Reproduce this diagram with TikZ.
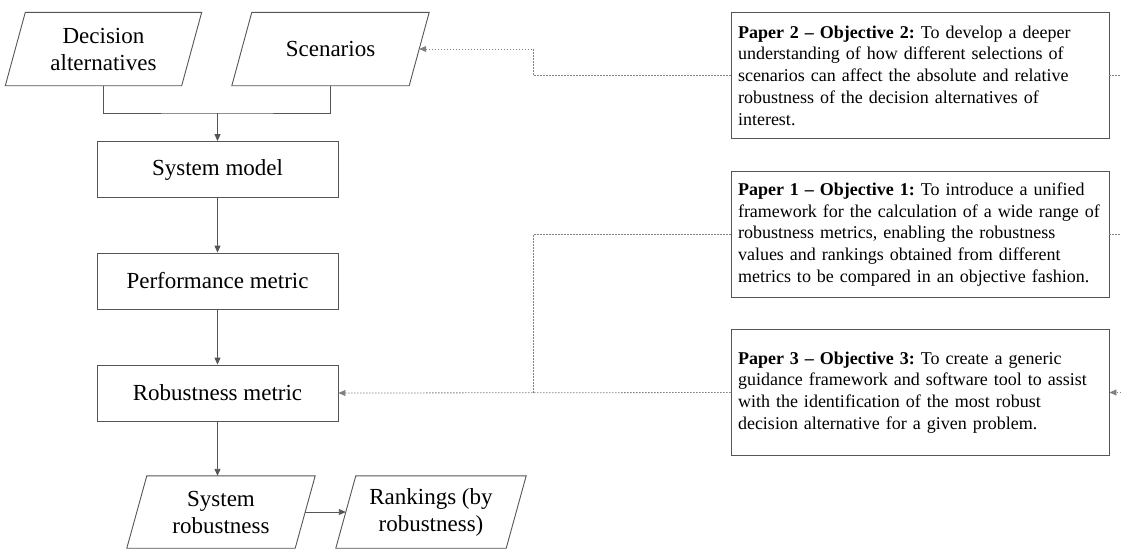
\documentclass[tikz,border=0pt]{standalone}
\usepackage{fontspec}
\setmainfont{Liberation Serif}
\usetikzlibrary{arrows.meta}
\definecolor{edgegray}{HTML}{555555}
\definecolor{dotgray}{HTML}{808080}
\frenchspacing
\begin{document}
\begin{tikzpicture}[x=1pt, y=-1pt,
  flowtext/.style={font=\fontsize{23}{27}\selectfont, align=center, text=black},
  stepbox/.style={flowtext, draw=edgegray, line width=0.9pt, rectangle,
    minimum width=241pt, minimum height=56pt, inner sep=0pt},
  databox/.style={flowtext, rectangle, inner sep=0pt, minimum height=73pt},
  outline/.style={draw=edgegray, line width=0.9pt},
  paperbox/.style={draw=edgegray, line width=0.9pt, rectangle, inner ysep=0pt,
    inner xsep=7pt, text width=364pt, minimum height=125.5pt, align=left,
    font=\fontsize{18}{21.8}\selectfont\frenchspacing},
  flowline/.style={draw=edgegray, line width=0.9pt},
  flow/.style={flowline, -{Triangle[length=7pt,width=6pt]}},
  link/.style={draw=dotgray, line width=0.8pt, dash pattern=on 1.5pt off 1.5pt},
  linkarrow/.style={link, -{Triangle[length=7pt,width=6pt]}},
]
\useasboundingbox (0,0) rectangle (1121,550);

% inputs (parallelograms: the node spans the mid-points of the slanted sides)
\node[databox, minimum width=176pt] (da) at (103.5,49) {Decision\\alternatives};
\node[databox, minimum width=177pt] (sc) at (330.5,49) {Scenarios};

% processing chain
\node[stepbox] (sm) at (217.5,169.5) {System model};
\node[stepbox] (pm) at (217.5,281) {Performance metric};
\node[stepbox] (rm) at (217.5,393) {Robustness metric};

% outputs
\node[databox, minimum width=168pt, minimum height=72pt] (sr) at (221,512) {System\\robustness};
\node[databox, minimum width=170pt, minimum height=72pt] (rk) at (431,512) {Rankings (by\\robustness)};

% parallelogram outlines
\foreach \n in {da,sc,sr,rk}
  \draw[outline] ([xshift=-10pt]\n.south west) -- ([xshift=-10pt]\n.south east)
    -- ([xshift=10pt]\n.north east) -- ([xshift=10pt]\n.north west) -- cycle;

% objective boxes
\node[paperbox] (p2) at (920,75.5) {\textbf{Paper 2 – Objective 2:} To develop a deeper\\
understanding of how different selections of\\
scenarios can affect the absolute and relative\\
robustness of the decision alternatives of\\
interest.};
\node[paperbox] (p1) at (920,234.5) {\textbf{Paper 1 – Objective 1:} To introduce a unified\\
framework for the calculation of a wide range of\\
robustness metrics, enabling the robustness\\
values and rankings obtained from different\\
metrics to be compared in an objective fashion.};
\node[paperbox] (p3) at (920,392.5) {\textbf{Paper 3 – Objective 3:} To create a generic\\
guidance framework and software tool to assist\\
with the identification of the most robust\\
decision alternative for a given problem.};

% helper coordinates
\coordinate (join) at (217.5,113);
\coordinate (bus) at (533.5,0);
\coordinate (edge) at (1121,0);

% solid flow connectors
\draw[flowline] (da.south) |- (join) -| (sc.south);
\draw[flow] (join) -- (sm.north);
\draw[flow] (sm.south) -- (pm.north);
\draw[flow] (pm.south) -- (rm.north);
\draw[flow] (rm.south) -- (rm.south |- sr.north);
\draw[flow] (sr.east) -- (rk.west);

% dotted links from the objectives
\draw[linkarrow] (p2.west) -- (p2.west -| bus) |- (sc.east);
\draw[link] (p1.west) -- (p1.west -| bus) -- (bus |- rm.east);
\draw[linkarrow] (p3.west) -- (rm.east);

% links leaving on the right
\draw[link] (p2.east) -- (p2.east -| edge);
\draw[link] (p1.east) -- (p1.east -| edge);
\draw[linkarrow] (p3.east -| edge) -- (p3.east);
\end{tikzpicture}
\end{document}
